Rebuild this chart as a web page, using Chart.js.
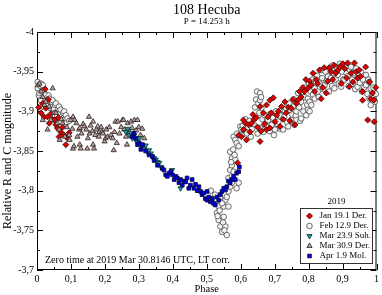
<!DOCTYPE html>
<html>
<head>
<meta charset="utf-8">
<script src="https://cdn.jsdelivr.net/npm/chart.js@4.4.0/dist/chart.umd.min.js"></script>
<style>
  html, body { margin: 0; padding: 0; background: #fff; }
  #wrap { width: 382px; height: 295px; }
</style>
</head>
<body>
<div id="wrap"><canvas id="lc"></canvas></div>
<script>
// axis ticks
const xTicks = [0, 0.1, 0.2, 0.3, 0.4, 0.5, 0.6, 0.7, 0.8, 0.9, 1];
const yTicks = [-4, -3.95, -3.9, -3.85, -3.8, -3.75, -3.7];

const seriesNames = ['Jan 19.1 Der.', 'Feb 12.9 Der.', 'Mar 23.9 Suh.', 'Mar 30.9 Der.', 'Apr 1.9 Mol.'];

// [phase, magnitude]
const jan19 = [
  [0.005,-3.905],[0.012,-3.898],[0.017,-3.910],[0.021,-3.893],[0.024,-3.928],[0.026,-3.904],[0.031,-3.893],
  [0.033,-3.915],[0.036,-3.885],[0.041,-3.897],[0.046,-3.890],[0.051,-3.889],[0.056,-3.883],[0.060,-3.879],
  [0.063,-3.892],[0.065,-3.868],[0.070,-3.874],[0.075,-3.880],[0.080,-3.870],[0.085,-3.858],[0.090,-3.866],
  [0.095,-3.873],
  [0.591,-3.835],[0.594,-3.870],[0.602,-3.868],[0.608,-3.889],[0.608,-3.877],[0.614,-3.885],[0.617,-3.864],
  [0.623,-3.883],[0.628,-3.874],[0.632,-3.885],[0.636,-3.896],[0.640,-3.890],[0.646,-3.892],[0.650,-3.880],
  [0.657,-3.862],[0.657,-3.906],[0.660,-3.875],[0.667,-3.898],[0.670,-3.884],[0.676,-3.908],[0.676,-3.877],
  [0.680,-3.893],[0.686,-3.879],[0.686,-3.914],[0.690,-3.898],[0.696,-3.917],[0.701,-3.887],[0.706,-3.895],
  [0.711,-3.900],[0.716,-3.881],[0.720,-3.906],[0.725,-3.890],[0.730,-3.912],[0.734,-3.898],[0.740,-3.905],
  [0.745,-3.888],[0.749,-3.904],[0.754,-3.915],[0.759,-3.883],[0.764,-3.910],[0.769,-3.914],[0.773,-3.925],
  [0.778,-3.918],[0.783,-3.930],[0.788,-3.925],[0.792,-3.940],[0.798,-3.929],[0.803,-3.938],[0.807,-3.933],
  [0.813,-3.948],[0.818,-3.925],[0.822,-3.940],[0.827,-3.935],[0.832,-3.952],[0.837,-3.916],[0.842,-3.930],
  [0.846,-3.955],[0.852,-3.923],[0.856,-3.938],[0.861,-3.955],[0.866,-3.950],[0.871,-3.940],[0.875,-3.958],
  [0.880,-3.948],[0.886,-3.952],[0.891,-3.956],[0.896,-3.935],[0.901,-3.960],[0.906,-3.954],[0.912,-3.942],
  [0.915,-3.961],[0.920,-3.931],[0.925,-3.948],[0.930,-3.937],[0.935,-3.961],[0.940,-3.950],[0.944,-3.942],
  [0.949,-3.952],[0.953,-3.944],[0.959,-3.914],[0.959,-3.925],[0.968,-3.956],[0.974,-3.889],[0.979,-3.937],
  [0.983,-3.916],[0.988,-3.923],[0.993,-3.914],[0.993,-3.887],[0.998,-3.930]
];

const feb12 = [
  [0.002,-3.937],[0.002,-3.929],[0.005,-3.920],[0.007,-3.923],[0.010,-3.932],[0.012,-3.935],[0.012,-3.914],
  [0.015,-3.925],[0.017,-3.933],[0.017,-3.906],[0.021,-3.927],[0.024,-3.917],[0.026,-3.921],[0.029,-3.911],
  [0.031,-3.910],[0.034,-3.920],[0.036,-3.916],[0.039,-3.904],[0.041,-3.906],[0.044,-3.912],[0.046,-3.914],
  [0.050,-3.903],[0.053,-3.908],[0.056,-3.910],[0.058,-3.898],[0.060,-3.895],[0.063,-3.903],[0.065,-3.906],
  [0.068,-3.897],[0.070,-3.902],[0.073,-3.893],[0.077,-3.898],[0.080,-3.900],[0.083,-3.890],[0.085,-3.895],
  [0.088,-3.886],[0.090,-3.891],[0.095,-3.888],
  [0.512,-3.800],[0.520,-3.790],[0.525,-3.795],[0.530,-3.788],[0.535,-3.780],[0.530,-3.772],[0.535,-3.763],
  [0.540,-3.755],[0.532,-3.768],[0.545,-3.748],[0.550,-3.767],[0.555,-3.755],[0.559,-3.744],[0.552,-3.750],
  [0.550,-3.780],[0.555,-3.788],[0.559,-3.792],[0.564,-3.799],[0.540,-3.792],[0.545,-3.784],[0.564,-3.780],
  [0.548,-3.760],[0.538,-3.775],
  [0.564,-3.816],[0.569,-3.805],[0.569,-3.826],[0.574,-3.810],[0.574,-3.818],[0.574,-3.832],[0.579,-3.824],
  [0.569,-3.849],[0.574,-3.841],[0.584,-3.839],[0.579,-3.868],[0.584,-3.864],[0.588,-3.860],[0.594,-3.856],
  [0.588,-3.803],[0.594,-3.810],[0.599,-3.881],[0.602,-3.877],[0.578,-3.852],[0.582,-3.845],[0.590,-3.872],
  [0.572,-3.836],
  [0.603,-3.870],[0.606,-3.882],[0.610,-3.876],[0.614,-3.890],[0.618,-3.872],[0.622,-3.880],[0.626,-3.888],
  [0.630,-3.868],[0.634,-3.878],[0.638,-3.884],[0.642,-3.905],[0.645,-3.915],[0.648,-3.925],[0.650,-3.872],
  [0.652,-3.910],[0.655,-3.898],[0.657,-3.923],[0.657,-3.914],[0.657,-3.879],[0.660,-3.918],[0.661,-3.904],
  [0.664,-3.890],[0.667,-3.874],[0.670,-3.895],[0.674,-3.882],[0.678,-3.890],[0.681,-3.889],[0.685,-3.875],
  [0.688,-3.897],[0.691,-3.883],[0.695,-3.892],[0.698,-3.870],[0.701,-3.877],[0.704,-3.900],[0.708,-3.884],
  [0.711,-3.887],[0.715,-3.895],[0.718,-3.878],[0.722,-3.902],[0.725,-3.877],[0.728,-3.893],[0.730,-3.900],
  [0.734,-3.904],[0.737,-3.886],[0.740,-3.881],[0.743,-3.910],[0.745,-3.902],[0.749,-3.889],[0.752,-3.896],
  [0.754,-3.906],[0.757,-3.915],[0.759,-3.883],[0.762,-3.895],[0.764,-3.900],[0.767,-3.910],[0.769,-3.923],
  [0.772,-3.905],[0.775,-3.888],[0.778,-3.912],[0.778,-3.891],[0.782,-3.925],[0.785,-3.900],[0.788,-3.918],
  [0.791,-3.930],[0.793,-3.895],[0.796,-3.908],[0.798,-3.916],[0.798,-3.902],[0.801,-3.935],[0.803,-3.912],
  [0.803,-3.900],[0.806,-3.925],[0.808,-3.908],[0.811,-3.940],[0.813,-3.921],[0.816,-3.932],[0.818,-3.916],
  [0.818,-3.929],[0.822,-3.937],[0.825,-3.945],[0.827,-3.925],[0.830,-3.918],[0.833,-3.935],[0.837,-3.952],
  [0.840,-3.942],[0.843,-3.928],[0.847,-3.933],[0.850,-3.950],[0.853,-3.938],[0.857,-3.944],[0.860,-3.925],
  [0.863,-3.955],[0.866,-3.942],[0.869,-3.932],[0.871,-3.958],[0.874,-3.948],[0.876,-3.929],[0.880,-3.940],
  [0.883,-3.955],[0.886,-3.946],[0.889,-3.935],[0.892,-3.960],[0.896,-3.931],[0.899,-3.950],[0.902,-3.940],
  [0.906,-3.940],[0.909,-3.955],[0.912,-3.948],[0.915,-3.944],[0.918,-3.932],[0.922,-3.952],[0.925,-3.956],
  [0.928,-3.940],[0.930,-3.935],[0.934,-3.948],[0.937,-3.928],[0.940,-3.954],[0.944,-3.931],[0.947,-3.942],
  [0.951,-3.936],[0.954,-3.950],[0.957,-3.925],[0.960,-3.940],[0.964,-3.930],[0.969,-3.946],[0.969,-3.933],
  [0.973,-3.922],[0.976,-3.940],[0.979,-3.937],[0.979,-3.916],[0.983,-3.929],[0.983,-3.908],[0.987,-3.920],
  [0.991,-3.930],[0.995,-3.912],[0.998,-3.922]
];

const mar23 = [
  [0.262,-3.874],[0.267,-3.878],[0.272,-3.870],[0.277,-3.873],[0.281,-3.866],[0.286,-3.870],[0.291,-3.864],
  [0.296,-3.862],[0.301,-3.866],[0.306,-3.858],[0.311,-3.855],[0.316,-3.853],[0.320,-3.857],[0.325,-3.849],
  [0.330,-3.851],[0.335,-3.847],[0.339,-3.843],[0.345,-3.841],[0.350,-3.839],[0.355,-3.836],[0.360,-3.835],
  [0.365,-3.830],[0.398,-3.826],[0.423,-3.803]
];

const mar30 = [
  [0.002,-3.933],[0.007,-3.935],[0.012,-3.925],[0.017,-3.918],[0.017,-3.889],[0.022,-3.908],[0.026,-3.912],
  [0.031,-3.877],[0.036,-3.906],[0.041,-3.889],[0.046,-3.929],[0.050,-3.898],[0.056,-3.898],[0.060,-3.885],
  [0.065,-3.877],[0.067,-3.864],[0.072,-3.890],[0.075,-3.885],[0.082,-3.868],[0.088,-3.880],[0.095,-3.870],
  [0.096,-3.864],[0.099,-3.889],[0.104,-3.878],[0.106,-3.893],[0.106,-3.853],[0.109,-3.856],[0.111,-3.889],
  [0.116,-3.885],[0.119,-3.868],[0.124,-3.877],[0.126,-3.879],[0.126,-3.858],[0.129,-3.853],[0.131,-3.872],
  [0.136,-3.884],[0.140,-3.881],[0.145,-3.877],[0.148,-3.853],[0.150,-3.866],[0.153,-3.893],[0.155,-3.872],
  [0.158,-3.882],[0.163,-3.875],[0.165,-3.887],[0.165,-3.858],[0.168,-3.853],[0.172,-3.870],[0.175,-3.877],
  [0.179,-3.881],[0.182,-3.868],[0.184,-3.874],[0.189,-3.880],[0.192,-3.874],[0.194,-3.872],[0.199,-3.862],
  [0.202,-3.866],[0.204,-3.877],[0.208,-3.868],[0.213,-3.880],[0.218,-3.870],[0.223,-3.866],[0.226,-3.851],
  [0.228,-3.874],[0.231,-3.887],[0.235,-3.860],[0.238,-3.887],[0.243,-3.872],[0.248,-3.880],[0.252,-3.889],
  [0.255,-3.889],[0.257,-3.877],[0.262,-3.868],[0.265,-3.858],[0.267,-3.885],[0.272,-3.874],[0.277,-3.887],
  [0.280,-3.879],[0.285,-3.872],[0.287,-3.889],[0.292,-3.876],[0.296,-3.889],[0.300,-3.880],[0.305,-3.870],
  [0.310,-3.878],[0.316,-3.866]
];

const apr1 = [
  [0.281,-3.868],[0.286,-3.872],[0.291,-3.866],[0.296,-3.858],[0.301,-3.860],[0.306,-3.852],[0.311,-3.858],
  [0.320,-3.850],[0.330,-3.845],[0.340,-3.843],[0.345,-3.838],[0.355,-3.832],[0.369,-3.828],[0.374,-3.826],
  [0.379,-3.820],[0.384,-3.818],[0.389,-3.822],[0.394,-3.824],[0.399,-3.820],[0.404,-3.814],[0.409,-3.818],
  [0.413,-3.816],[0.418,-3.810],[0.423,-3.814],[0.428,-3.807],[0.433,-3.812],[0.438,-3.811],[0.442,-3.816],
  [0.447,-3.803],[0.452,-3.807],[0.457,-3.814],[0.462,-3.803],[0.467,-3.808],[0.472,-3.800],[0.477,-3.805],
  [0.482,-3.799],[0.486,-3.795],[0.491,-3.797],[0.496,-3.790],[0.501,-3.788],[0.501,-3.799],[0.506,-3.792],
  [0.511,-3.786],[0.516,-3.790],[0.520,-3.784],[0.525,-3.782],[0.530,-3.792],[0.535,-3.788],[0.540,-3.795],
  [0.545,-3.799],[0.550,-3.803],[0.555,-3.801],[0.559,-3.805],[0.564,-3.812],[0.569,-3.810],[0.574,-3.814],
  [0.579,-3.818],[0.584,-3.814],[0.588,-3.822],[0.594,-3.824],[0.596,-3.830]
];

const FONT = '"Liberation Serif", "DejaVu Serif", serif';
Chart.defaults.color = '#000';
Chart.defaults.font.family = FONT;

const toXY = arr => arr.map(p => ({x: p[0], y: p[1]}));
const fmt = v => String(+(+v).toFixed(2)).replace('.', ',');

const datasets = [
  {label: seriesNames[0], data: toXY(jan19), pointStyle: 'rectRot', pointRadius: 3, rotation: 0,
   backgroundColor: '#e00000', borderColor: '#3a0000', order: 3},
  {label: seriesNames[1], data: toXY(feb12), pointStyle: 'circle', pointRadius: 2.8, rotation: 0,
   backgroundColor: '#f4f4f4', borderColor: '#4a4a4a', order: 4},
  {label: seriesNames[2], data: toXY(mar23), pointStyle: 'triangle', pointRadius: 3, rotation: 180,
   backgroundColor: '#1c9c9c', borderColor: '#0a3030', order: 1},
  {label: seriesNames[3], data: toXY(mar30), pointStyle: 'triangle', pointRadius: 3, rotation: 0,
   backgroundColor: '#b89e9e', borderColor: '#2a2020', order: 2},
  {label: seriesNames[4], data: toXY(apr1), pointStyle: 'rect', pointRadius: 2.6, rotation: 0,
   backgroundColor: '#0000e0', borderColor: '#000040', order: 0}
].map(d => Object.assign(d, {pointBorderWidth: 0.8, borderWidth: 0.8, pointHoverRadius: 3, clip: false}));

function drawTicks(ctx, scale, values, len, side, area) {
  values.forEach(v => {
    const p = Math.round(scale.getPixelForValue(v)) + 0.5;
    ctx.beginPath();
    if (side === 'x') {
      ctx.moveTo(p, area.bottom); ctx.lineTo(p, area.bottom - len);
      ctx.moveTo(p, area.top); ctx.lineTo(p, area.top + len);
    } else {
      ctx.moveTo(area.left, p); ctx.lineTo(area.left + len, p);
      ctx.moveTo(area.right, p); ctx.lineTo(area.right - len, p);
    }
    ctx.stroke();
  });
}

const mids = arr => arr.slice(1).map((v, i) => (v + arr[i]) / 2);

const decorPlugin = {
  id: 'decor',
  beforeDatasetsDraw(chart) {
    const {ctx, chartArea: a, scales: {x, y}} = chart;
    ctx.save();
    ctx.strokeStyle = '#000';
    ctx.lineWidth = 1;
    ctx.strokeRect(a.left + 0.5, a.top + 0.5, a.right - a.left - 1, a.bottom - a.top - 1);
    drawTicks(ctx, x, xTicks, 6, 'x', a);
    drawTicks(ctx, x, mids(xTicks), 3, 'x', a);
    drawTicks(ctx, y, yTicks, 6, 'y', a);
    drawTicks(ctx, y, mids(yTicks), 3, 'y', a);
    ctx.restore();
  },
  afterDraw(chart) {
    const {ctx, chartArea: a} = chart;
    const cx = (a.left + a.right) / 2;
    ctx.save();
    ctx.fillStyle = '#000';
    ctx.textAlign = 'center';
    ctx.textBaseline = 'middle';
    ctx.font = '14px ' + FONT;
    ctx.fillText('108 Hecuba', cx, 10);
    ctx.font = '9px ' + FONT;
    ctx.fillText('P = 14.253 h', cx, 22);

    // axis titles
    ctx.font = '10.5px ' + FONT;
    ctx.fillText('Phase', cx, 289);
    ctx.save();
    ctx.translate(8, 161);
    ctx.rotate(-Math.PI / 2);
    ctx.font = '12px ' + FONT;
    ctx.fillText('Relative R and C magnitude', 0, 0);
    ctx.restore();

    ctx.textAlign = 'left';
    ctx.font = '10px ' + FONT;
    ctx.fillText('Zero time at 2019 Mar 30.8146 UTC, LT corr.', 45, 260);

    // legend
    const bx = 300.5, by = 208.5, bw = 72, bh = 55;
    ctx.font = '9px ' + FONT;
    ctx.textAlign = 'center';
    ctx.fillText('2019', bx + bw / 2, by - 7);
    ctx.fillStyle = '#fff';
    ctx.fillRect(bx, by, bw, bh);
    ctx.strokeStyle = '#333';
    ctx.lineWidth = 1;
    ctx.strokeRect(bx, by, bw, bh);
    ctx.textAlign = 'left';
    chart.data.datasets.forEach((d, i) => {
      const ry = by + 7.5 + i * 10;
      ctx.fillStyle = d.backgroundColor;
      ctx.strokeStyle = d.borderColor;
      ctx.lineWidth = 0.8;
      Chart.helpers.drawPoint(ctx, {pointStyle: d.pointStyle, radius: d.pointRadius, rotation: d.rotation, borderWidth: 0.8}, bx + 9, ry);
      ctx.fillStyle = '#000';
      ctx.fillText(d.label, bx + 19, ry);
    });
    ctx.restore();
  }
};

new Chart(document.getElementById('lc'), {
  type: 'scatter',
  data: {datasets},
  plugins: [decorPlugin],
  options: {
    responsive: true,
    maintainAspectRatio: false,
    animation: false,
    events: [],
    layout: {padding: {top: 32, right: 3, left: 0, bottom: 0}},
    plugins: {legend: {display: false}, tooltip: {enabled: false}},
    scales: {
      x: {
        type: 'linear', min: 0, max: 1,
        afterBuildTicks: s => { s.ticks = xTicks.map(v => ({value: v})); },
        afterFit: s => { s.height = 25; },
        grid: {display: false, drawTicks: false},
        border: {display: false},
        ticks: {callback: v => fmt(v), font: {size: 10}, padding: 3, maxRotation: 0, autoSkip: false},
        title: {display: false}
      },
      y: {
        type: 'linear', min: -4, max: -3.7, reverse: true,
        afterBuildTicks: s => { s.ticks = yTicks.map(v => ({value: v})); },
        afterFit: s => { s.width = 37; },
        grid: {display: false, drawTicks: false},
        border: {display: false},
        ticks: {callback: v => fmt(v), font: {size: 10}, padding: 3, autoSkip: false},
        title: {display: false}
      }
    }
  }
});
</script>
</body>
</html>
